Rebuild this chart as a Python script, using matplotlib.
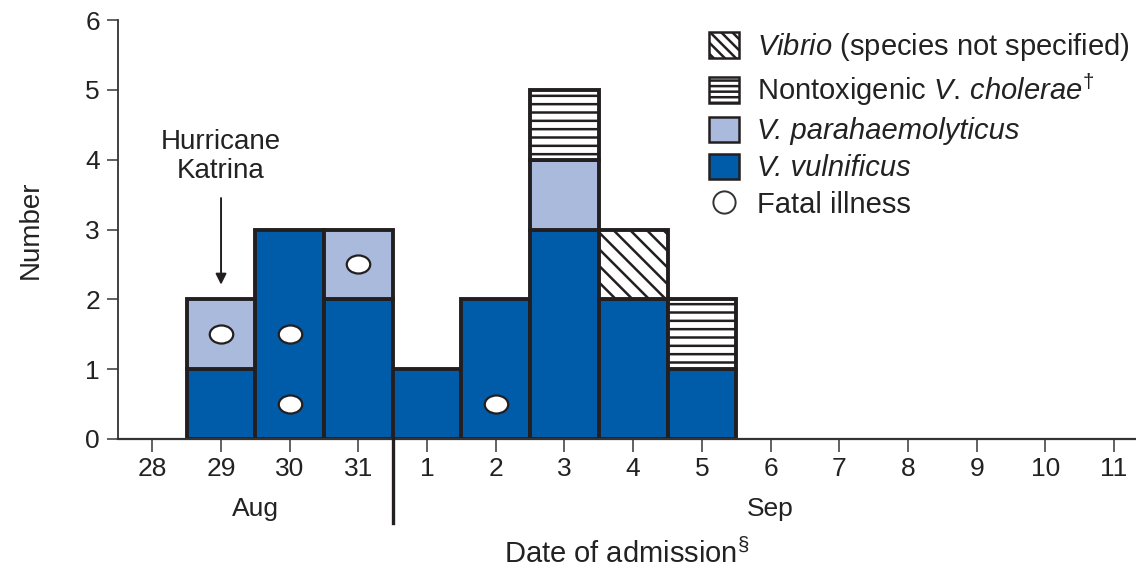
import numpy as np
import matplotlib
matplotlib.use("Agg")
import matplotlib.pyplot as plt
from matplotlib.patches import Patch
from matplotlib.lines import Line2D
from matplotlib.markers import MarkerStyle
from matplotlib.transforms import Affine2D

plt.rcParams["font.family"] = ["Liberation Sans", "DejaVu Sans"]
plt.rcParams["hatch.linewidth"] = 1.8
plt.rcParams["mathtext.fontset"] = "custom"
plt.rcParams["mathtext.rm"] = "Liberation Sans"
plt.rcParams["mathtext.it"] = "Liberation Sans:italic"

# x axis: Aug 28 .. Sep 11
day_labels = ["28", "29", "30", "31", "1", "2", "3", "4", "5", "6", "7", "8", "9", "10", "11"]

# bars for Aug 29 .. Sep 5
bar_days = ["29", "30", "31", "1", "2", "3", "4", "5"]
vulnificus = [1, 3, 2, 1, 2, 3, 2, 1]
parahaem = [1, 0, 1, 0, 0, 1, 0, 0]
cholerae = [0, 0, 0, 0, 0, 1, 0, 1]
vibrio_ns = [0, 0, 0, 0, 0, 0, 1, 0]

# fatal illnesses (day, height of marker)
fatal_days = ["29", "30", "30", "31", "2"]
fatal_y = [1.5, 1.5, 0.5, 2.5, 0.5]

dark_blue = "#005BA8"
light_blue = "#A9BADD"
edge = "#231F20"
txt = "#222222"

fig = plt.figure(figsize=(11.36, 5.71), dpi=100)
ax = fig.add_axes([118 / 1136, 1 - 439 / 571, 1 - 118 / 1136, (439 - 20) / 571])

xpos = np.array([day_labels.index(d) for d in bar_days])
bottom = np.zeros(len(bar_days))
series = [
    (vulnificus, dark_blue, None),
    (parahaem, light_blue, None),
    (cholerae, "white", "--"),
    (vibrio_ns, "white", "\\\\"),
]
for vals, color, hatch in series:
    vals = np.array(vals, dtype=float)
    m = vals > 0
    ax.bar(xpos[m], vals[m], width=1.0, bottom=bottom[m], color=color,
           edgecolor=edge, linewidth=2.8, hatch=hatch, zorder=2)
    bottom += vals

ell = MarkerStyle("o", transform=Affine2D().scale(1.3, 1.0))
fx = [day_labels.index(d) for d in fatal_days]
ax.plot(fx, fatal_y, linestyle="none", marker=ell, markersize=13,
        markerfacecolor="white", markeredgecolor=edge, markeredgewidth=1.6, zorder=4)

ax.set_xlim(-0.5, 14.32)
ax.set_ylim(0, 6)
ax.set_xticks(range(len(day_labels)))
ax.set_xticklabels(day_labels)
ax.set_yticks(range(7))
for s in ["top", "right"]:
    ax.spines[s].set_visible(False)
ax.spines["left"].set_linewidth(1.3)
ax.spines["bottom"].set_linewidth(1.6)
ax.spines["left"].set_color("#333333")
ax.spines["bottom"].set_color("#333333")
ax.tick_params(axis="x", length=9, width=1.3, color="#555555", pad=4, labelsize=19, labelcolor=txt)
ax.tick_params(axis="y", length=8, width=1.3, color="#555555", pad=5, labelsize=19, labelcolor=txt)

# month divider and labels
ax.plot([3.5, 3.5], [0, -1.2], color=edge, linewidth=2.4, clip_on=False, zorder=5)
ax.text(1.5, -1.0, "Aug", ha="center", va="center", fontsize=19, color=txt)
ax.text(9, -1.0, "Sep", ha="center", va="center", fontsize=19, color=txt)

ax.set_xlabel("Date of admission$^{\\S}$", fontsize=21, color=txt, labelpad=41)
ax.set_ylabel("Number", fontsize=20, color=txt, labelpad=30)

# Hurricane Katrina annotation
ax.text(1.0, 4.04, "Hurricane\nKatrina", ha="center", va="center", fontsize=20,
        color=txt, linespacing=1.15)
ax.annotate("", xy=(1.0, 2.17), xytext=(1.0, 3.49),
            arrowprops=dict(arrowstyle="-|>", color=edge, lw=1.4, mutation_scale=16))

handles = [
    Patch(facecolor="white", edgecolor=edge, hatch="\\\\\\", linewidth=1.8),
    Patch(facecolor="white", edgecolor=edge, hatch="---", linewidth=1.8),
    Patch(facecolor=light_blue, edgecolor=edge, linewidth=1.8),
    Patch(facecolor=dark_blue, edgecolor=edge, linewidth=1.8),
    Line2D([], [], linestyle="none", marker="o", markersize=16,
           markerfacecolor="white", markeredgecolor="#333333", markeredgewidth=1.4),
]
labels = [
    "$\\it{Vibrio}$ (species not specified)",
    "Nontoxigenic $\\it{V.\\,cholerae}^{\\dagger}$",
    "V. parahaemolyticus",
    "V. vulnificus",
    "Fatal illness",
]
leg = ax.legend(handles, labels, loc="upper right", bbox_to_anchor=(1130 / 1136, 1 - 31 / 571),
                bbox_transform=fig.transFigure, frameon=False, fontsize=21,
                handlelength=1.05, handleheight=0.95, handletextpad=0.62, labelspacing=0.29,
                borderpad=0, borderaxespad=0, labelcolor=txt)
for t in leg.get_texts()[2:4]:
    t.set_fontstyle("italic")

fig.savefig("out.png", dpi=100)
